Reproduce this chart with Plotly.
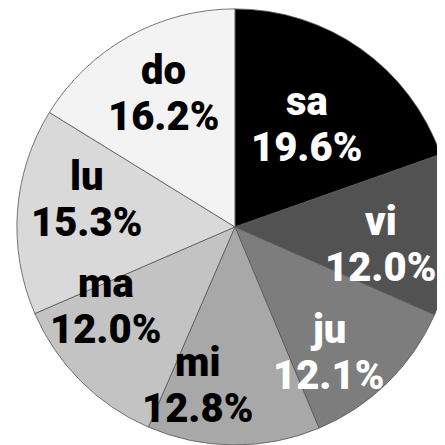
import math
import plotly.graph_objects as go

labels = ["sa", "vi", "ju", "mi", "ma", "lu", "do"]
values = [19.6, 12.0, 12.1, 12.8, 12.0, 15.3, 16.2]
colors = ["#000000", "#525252", "#7d7d7d", "#a8a8a8", "#c3c3c3", "#d9d9d9", "#f3f3f3"]
text_colors = ["white", "white", "white", "black", "black", "black", "black"]

# label placement (style): radial fraction and angular nudge (degrees, clockwise)
label_radius = [0.57, 0.675, 0.72, 0.75, 0.70, 0.69, 0.69]
label_nudge = [0, 5, 8, 13, 13, 6, 1]

dom_x = [0.020, 1.0]
dom_y = [0.018, 0.998]
W = H = 445

fig = go.Figure(go.Pie(
    labels=labels,
    values=values,
    sort=False,
    direction="clockwise",
    rotation=0,
    domain=dict(x=dom_x, y=dom_y),
    marker=dict(colors=colors, line=dict(color="#555555", width=0.8)),
    textinfo="none",
    showlegend=False,
    hoverinfo="skip",
))

cx = sum(dom_x) / 2
cy = sum(dom_y) / 2
r_px = min((dom_x[1] - dom_x[0]) * W, (dom_y[1] - dom_y[0]) * H) / 2
total = sum(values)
cum = 0.0
font_family = "Roboto, Liberation Sans, Arial, sans-serif"
for lab, v, tc, rf, nd in zip(labels, values, text_colors, label_radius, label_nudge):
    mid = (cum + v / 2) / total * 360 + nd
    cum += v
    th = math.radians(mid)
    x = cx + rf * r_px * math.sin(th) / W
    y = cy + rf * r_px * math.cos(th) / H
    for txt, ys in ((lab, 24), (f"{v / total * 100:.1f}%", -22)):
        fig.add_annotation(
            x=x, y=y, xref="paper", yref="paper",
            text=txt, showarrow=False, yshift=ys,
            xanchor="center", yanchor="middle",
            font=dict(family=font_family, size=40, color=tc, weight=900),
        )

fig.update_layout(
    width=W, height=H,
    margin=dict(l=0, r=0, t=0, b=0),
    paper_bgcolor="white",
)
fig.write_html("out.html")
